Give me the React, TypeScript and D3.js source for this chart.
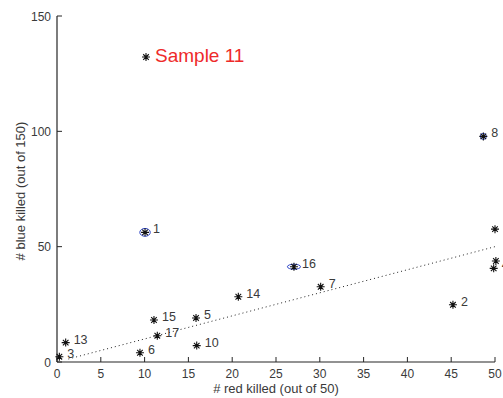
import React from "react";
import * as d3 from "d3";

// Sample identifiers and their kill counts
const sampleIds = ["1", "2", "3", "4", "5", "6", "7", "8", "9", "10", "11", "12", "13", "14", "15", "16", "17"];
const redKilled = [10.05, 45.2, 0.27, 49.85, 15.87, 9.47, 30.1, 48.67, 50.1, 15.95, 10.16, 50.0, 0.99, 20.7, 11.07, 27.05, 11.45];
const blueKilled = [56.2, 24.8, 2.3, 40.6, 19.1, 4.0, 32.6, 97.8, 43.8, 7.1, 132.2, 57.6, 8.4, 28.3, 18.2, 41.3, 11.4];

// Spread of repeated measurements (red, blue) for the samples that have them
const spreadIds = ["1", "8", "16"];
const spreadRed = [0.6, 0.35, 0.75];
const spreadBlue = [1.7, 1.3, 1.1];

// Reference line (equal fraction killed)
const refRed = [1.3, 50];
const refBlue = [1.3, 50];

const highlighted = "11";

const xTicks = [0, 5, 10, 15, 20, 25, 30, 35, 40, 45, 50];
const yTicks = [0, 50, 100, 150];

const W = 503;
const H = 398;

export default function App() {
  const x = d3.scaleLinear().domain([0, 50]).range([57, 495]);
  const y = d3.scaleLinear().domain([0, 150]).range([362, 16]);

  const axisColor = "#262626";
  const textColor = "#3a3a3a";
  const font = "Liberation Sans, Arial, sans-serif";

  const refLine = d3
    .line<number>()
    .x((_, i) => x(refRed[i]))
    .y((_, i) => y(refBlue[i]))(refRed);

  const star = (cx: number, cy: number) => {
    const r = 4;
    const d = r * 0.7;
    return `M${cx - r},${cy}L${cx + r},${cy}M${cx},${cy - r}L${cx},${cy + r}M${cx - d},${cy - d}L${cx + d},${cy + d}M${cx - d},${cy + d}L${cx + d},${cy - d}`;
  };

  return (
    <svg
      width={W}
      height={H}
      style={{ position: "absolute", left: 0, top: 0, background: "#fff" }}
      fontFamily={font}
    >
      {/* reference line */}
      <path d={refLine ?? ""} fill="none" stroke="#222" strokeWidth={1} strokeDasharray="1,3" />

      {/* axes */}
      <line x1={x(0)} x2={x(50)} y1={y(0)} y2={y(0)} stroke={axisColor} strokeWidth={1.2} />
      <line x1={x(0)} x2={x(0)} y1={y(0)} y2={y(150)} stroke={axisColor} strokeWidth={1.2} />
      {xTicks.map((t) => (
        <g key={`xt${t}`}>
          <line x1={x(t)} x2={x(t)} y1={y(0)} y2={y(0) - 5} stroke={axisColor} />
          <text x={x(t)} y={378} textAnchor="middle" fontSize={12} fill={textColor}>
            {t}
          </text>
        </g>
      ))}
      {yTicks.map((t) => (
        <g key={`yt${t}`}>
          <line x1={x(0)} x2={x(0) + 5} y1={y(t)} y2={y(t)} stroke={axisColor} />
          <text x={51} y={y(t) + 4.5} textAnchor="end" fontSize={12} fill={textColor}>
            {t}
          </text>
        </g>
      ))}
      <text x={(x(0) + x(50)) / 2} y={393} textAnchor="middle" fontSize={13} fill={textColor}>
        # red killed (out of 50)
      </text>
      <text
        transform={`translate(25,${(y(0) + y(150)) / 2 + 2}) rotate(-90)`}
        textAnchor="middle"
        fontSize={13}
        fill={textColor}
      >
        # blue killed (out of 150)
      </text>

      {/* spread ellipses */}
      {spreadIds.map((id, i) => {
        const k = sampleIds.indexOf(id);
        const cx = x(redKilled[k]);
        const cy = y(blueKilled[k]);
        return (
          <ellipse
            key={`e${id}`}
            cx={cx}
            cy={cy}
            rx={x(spreadRed[i]) - x(0)}
            ry={y(0) - y(spreadBlue[i])}
            fill="none"
            stroke="#3048c8"
            strokeWidth={1}
          />
        );
      })}

      {/* samples */}
      {sampleIds.map((id, i) => {
        const cx = x(redKilled[i]);
        const cy = y(blueKilled[i]);
        const hl = id === highlighted;
        return (
          <g key={`p${id}`}>
            <path d={star(cx, cy)} stroke="#111" strokeWidth={1.1} fill="none" />
            {hl ? (
              <text x={cx + 9} y={cy + 5} fontSize={19} fill="#ee2a2a">
                Sample {id}
              </text>
            ) : (
              <text x={cx + 8} y={cy + 1} fontSize={12.5} fill={textColor}>
                {id}
              </text>
            )}
          </g>
        );
      })}
    </svg>
  );
}
